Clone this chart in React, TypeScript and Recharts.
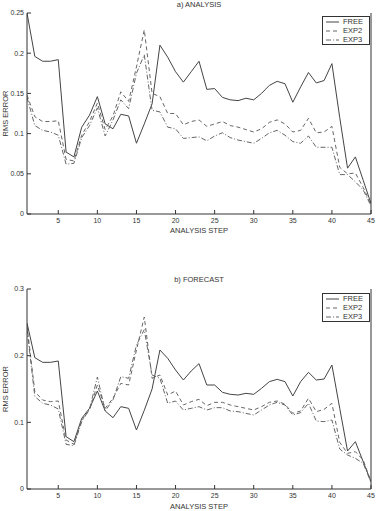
import { LineChart, Line, XAxis, YAxis, Legend } from 'recharts';

// analysis step (x categories)
const steps = [
  1, 2, 3, 4, 5, 6, 7, 8, 9, 10, 11, 12, 13, 14, 15, 16, 17, 18, 19, 20, 21, 22, 23,
  24, 25, 26, 27, 28, 29, 30, 31, 32, 33, 34, 35, 36, 37, 38, 39, 40, 41, 42, 43, 44, 45,
];
const stepTicks = [5, 10, 15, 20, 25, 30, 35, 40, 45];
const seriesNames = ['FREE', 'EXP2', 'EXP3'];

// a) ANALYSIS
const analysisFree = [
  0.25, 0.196, 0.19, 0.19, 0.192, 0.077, 0.071, 0.108, 0.123, 0.146, 0.112, 0.106, 0.124,
  0.122, 0.088, 0.112, 0.137, 0.21, 0.195, 0.177, 0.164, 0.177, 0.19, 0.155, 0.156, 0.145,
  0.142, 0.141, 0.144, 0.142, 0.15, 0.16, 0.165, 0.162, 0.139, 0.158, 0.176, 0.163, 0.166,
  0.187, 0.12, 0.057, 0.071, 0.042, 0.013,
];
const analysisExp2 = [
  0.148, 0.121, 0.115, 0.115, 0.116, 0.068, 0.066, 0.098, 0.115, 0.138, 0.105, 0.122, 0.152,
  0.14, 0.183, 0.229, 0.15, 0.146, 0.125, 0.125, 0.111, 0.115, 0.117, 0.109, 0.112, 0.115,
  0.11, 0.108, 0.105, 0.102, 0.106, 0.114, 0.117, 0.112, 0.102, 0.104, 0.119, 0.101, 0.102,
  0.109, 0.058, 0.05, 0.051, 0.033, 0.012,
];
const analysisExp3 = [
  0.145, 0.11, 0.104, 0.102, 0.098, 0.062, 0.063, 0.095, 0.11, 0.132, 0.097, 0.117, 0.142,
  0.131, 0.175, 0.198, 0.129, 0.127, 0.108, 0.106, 0.094, 0.095, 0.096, 0.091, 0.097, 0.101,
  0.095, 0.092, 0.09, 0.088, 0.094, 0.101, 0.104, 0.098, 0.09, 0.088, 0.097, 0.083, 0.083,
  0.083, 0.049, 0.049, 0.04, 0.03, 0.01,
];
const analysisTicks = [0, 0.05, 0.1, 0.15, 0.2, 0.25];

// b) FORECAST
const forecastFree = [
  0.249, 0.197, 0.19, 0.19, 0.192, 0.0785, 0.071, 0.106, 0.121, 0.147, 0.117, 0.107, 0.1235,
  0.121, 0.0885, 0.118, 0.15, 0.2085, 0.196, 0.1785, 0.1635, 0.177, 0.188, 0.156, 0.156,
  0.145, 0.142, 0.141, 0.1435, 0.142, 0.151, 0.161, 0.1645, 0.161, 0.1395, 0.161, 0.175,
  0.1635, 0.165, 0.186, 0.121, 0.057, 0.071, 0.041, 0.011,
];
const forecastExp2 = [
  0.245, 0.146, 0.1335, 0.131, 0.132, 0.0735, 0.067, 0.1035, 0.1185, 0.156, 0.121, 0.136,
  0.1585, 0.156, 0.2085, 0.258, 0.166, 0.171, 0.141, 0.147, 0.126, 0.131, 0.1345, 0.125,
  0.13, 0.13, 0.126, 0.1235, 0.121, 0.1185, 0.1235, 0.13, 0.132, 0.127, 0.1135, 0.117, 0.136,
  0.116, 0.1195, 0.1285, 0.07, 0.0535, 0.056, 0.0435, 0.011,
];
const forecastExp3 = [
  0.24, 0.139, 0.1285, 0.126, 0.12, 0.067, 0.065, 0.101, 0.12, 0.168, 0.117, 0.134, 0.1685,
  0.166, 0.216, 0.239, 0.171, 0.166, 0.1285, 0.132, 0.1185, 0.121, 0.1235, 0.1185, 0.122,
  0.122, 0.117, 0.116, 0.1135, 0.111, 0.1185, 0.126, 0.13, 0.126, 0.111, 0.1145, 0.1285,
  0.102, 0.101, 0.1035, 0.06, 0.051, 0.046, 0.0385, 0.01,
];
const forecastTicks = [0, 0.1, 0.2, 0.3];

const FONT = '"Liberation Sans", Arial, Helvetica, sans-serif';
const AXIS = '#333';
const LINE_COLOR: Record<string, string> = { FREE: '#444', EXP2: '#666', EXP3: '#666' };
const DASH: Record<string, string | undefined> = { FREE: undefined, EXP2: '4 3', EXP3: '5 2 1 2' };

const buildRows = (free: number[], exp2: number[], exp3: number[]) =>
  steps.map((s, i) => ({ step: s, FREE: free[i], EXP2: exp2[i], EXP3: exp3[i] }));

const fmt = (v: number) => String(+v.toFixed(2));

function LegendBox() {
  return (
    <div
      style={{
        width: 48,
        height: 29,
        boxSizing: 'border-box',
        border: `1px solid ${AXIS}`,
        background: '#fff',
        fontFamily: FONT,
        fontSize: 7.5,
        color: '#333',
        paddingTop: 1,
      }}
    >
      {seriesNames.map((n) => (
        <div key={n} style={{ display: 'flex', alignItems: 'center', height: 8.8 }}>
          <svg width={20} height={8} style={{ display: 'block' }}>
            <line x1={3} x2={16} y1={4} y2={4} stroke={LINE_COLOR[n]} strokeWidth={1} strokeDasharray={DASH[n]} />
          </svg>
          <span style={{ lineHeight: '8px' }}>{n}</span>
        </div>
      ))}
    </div>
  );
}

interface PanelProps {
  title: string;
  rows: { step: number; FREE: number; EXP2: number; EXP3: number }[];
  yMax: number;
  yTicks: number[];
  top: number;
  height: number;
  plotTop: number;
  axisHeight: number;
  labelOffset: number;
  titleTop: number;
  legendTop: number;
}

function Panel({ title, rows, yMax, yTicks, top, height, plotTop, axisHeight, labelOffset, titleTop, legendTop }: PanelProps) {
  const tickStyle = { fontSize: 7, fill: '#333', fontFamily: FONT };
  return (
    <div style={{ position: 'absolute', left: 0, top, width: 376, height }}>
      <div
        style={{
          position: 'absolute',
          left: 27,
          width: 344,
          top: titleTop,
          textAlign: 'center',
          fontFamily: FONT,
          fontSize: 7.5,
          lineHeight: '9px',
          color: '#333',
        }}
      >
        {title}
      </div>
      <LineChart width={376} height={height} data={rows} margin={{ top: plotTop, right: 0, bottom: 0, left: 0 }}>
        <XAxis
          dataKey="step"
          type="number"
          domain={[1, 45]}
          ticks={stepTicks}
          allowDataOverflow
          height={axisHeight}
          stroke={AXIS}
          tickSize={-4}
          tickMargin={8}
          tick={tickStyle}
          label={{ value: 'ANALYSIS STEP', position: 'insideBottom', offset: labelOffset, fontSize: 7.5, fill: '#333', fontFamily: FONT }}
        />
        <XAxis
          xAxisId="top"
          orientation="top"
          dataKey="step"
          type="number"
          domain={[1, 45]}
          ticks={stepTicks}
          allowDataOverflow
          height={0}
          stroke={AXIS}
          tickSize={-4}
          tick={false}
        />
        <YAxis
          type="number"
          domain={[0, yMax]}
          ticks={yTicks}
          allowDataOverflow
          width={27}
          stroke={AXIS}
          tickSize={-4}
          tickMargin={7}
          tick={tickStyle}
          tickFormatter={fmt}
          label={{
            value: 'RMS ERROR',
            angle: -90,
            position: 'insideLeft',
            offset: 5,
            fontSize: 7.5,
            fill: '#333',
            fontFamily: FONT,
            style: { textAnchor: 'middle' },
          }}
        />
        <YAxis
          yAxisId="right"
          orientation="right"
          type="number"
          domain={[0, yMax]}
          ticks={yTicks}
          allowDataOverflow
          width={5}
          stroke={AXIS}
          tickSize={-4}
          tick={false}
        />
        <Legend
          layout="vertical"
          align="center"
          verticalAlign="middle"
          wrapperStyle={{ left: 322, top: legendTop, width: 48, height: 29 }}
          content={() => <LegendBox />}
        />
        {seriesNames.map((n) => (
          <Line
            key={n}
            type="linear"
            dataKey={n}
            stroke={LINE_COLOR[n]}
            strokeWidth={1}
            strokeDasharray={DASH[n]}
            dot={false}
            activeDot={false}
            isAnimationActive={false}
          />
        ))}
      </LineChart>
    </div>
  );
}

export default function App() {
  return (
    <div style={{ position: 'absolute', left: 0, top: 0, width: 376, height: 511, background: '#fff' }}>
      <Panel
        title="a) ANALYSIS"
        rows={buildRows(analysisFree, analysisExp2, analysisExp3)}
        yMax={0.25}
        yTicks={analysisTicks}
        top={0}
        height={240}
        plotTop={13}
        axisHeight={26}
        labelOffset={7}
        titleTop={0}
        legendTop={16}
      />
      <Panel
        title="b) FORECAST"
        rows={buildRows(forecastFree, forecastExp2, forecastExp3)}
        yMax={0.3}
        yTicks={forecastTicks}
        top={260}
        height={251}
        plotTop={29}
        axisHeight={22}
        labelOffset={2}
        titleTop={15}
        legendTop={33}
      />
    </div>
  );
}
